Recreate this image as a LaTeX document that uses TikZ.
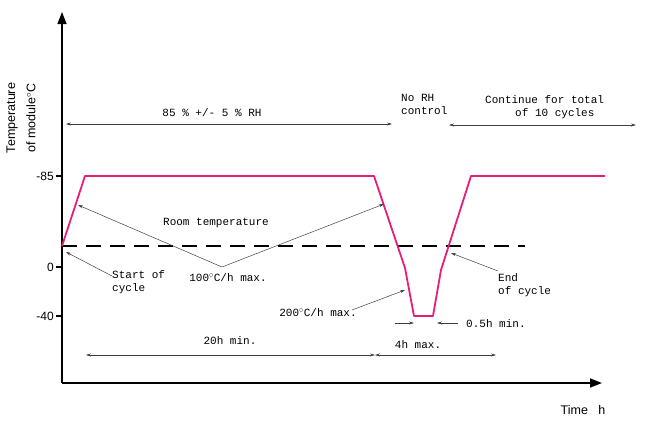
\documentclass[tikz,border=0pt]{standalone}
\usepackage{fontspec}
\usetikzlibrary{arrows.meta}
\setmainfont{Liberation Mono}
\newfontfamily\arialf{Liberation Sans}
\begin{document}
\begin{tikzpicture}[x=1pt,y=-1pt,
  lbl/.style={font=\fontsize{11}{13}\selectfont,inner sep=0pt},
  tk/.style={font=\arialf\fontsize{12}{13}\selectfont,inner sep=0pt,anchor=east},
  axl/.style={font=\arialf\fontsize{12.5}{14}\selectfont,inner sep=0pt},
  thin/.style={draw=black!75,line width=0.5pt},
  arr/.style={thin,-{Stealth[length=5pt,width=3pt]}},
  darr/.style={thin,{Stealth[length=5pt,width=3pt]}-{Stealth[length=5pt,width=3pt]}}]
\useasboundingbox (0,0) rectangle (667,426);
% axes
\coordinate (O) at (62,383);
\coordinate (Ytop) at (62,12);
\coordinate (Xend) at (602,383);
\draw[line width=1.6pt,-{Triangle[length=12pt,width=9pt]}] (O) -- (Ytop);
\draw[line width=1.6pt,-{Triangle[length=12pt,width=9pt]}] (O) -- (Xend);
% ticks
\foreach \y/\t in {176/-85,267/0,316/-40}{
  \draw[line width=1.4pt] (56,\y) -- (62,\y);
  \node[tk] at (54,\y) {\t};}
% axis labels
\node[axl,rotate=90] (yl1) at (12,118) {Temperature};
\node[axl,rotate=90] (yl2) at (31,118) {of module$^{\circ}$C};
\node[axl] (xl) at (583,410) {Time\ \ \ h};
% dashed room temp
\draw[line width=2pt,dash pattern=on 15pt off 9pt] (62,246) -- (525,246);
% pink curve
\draw[color={rgb,255:red,230;green,30;blue,120},line width=1.8pt,line join=round]
  (62,246) -- (85,176) -- (374,176) -- (405,268) -- (414,316) -- (433,316) -- (441,270) -- (471,176) -- (605,176);
% RH arrow
\coordinate (rh1) at (66,124); \coordinate (rh2) at (392,124);
\draw[darr] (rh1) -- (rh2);
\node[lbl] (rhl) at (212,113) {85 \% +/- 5 \% RH};
\node[lbl,anchor=west,align=left] (norh) at (401,104) {No RH\\control};
\coordinate (c1) at (449,125); \coordinate (c2) at (636,125);
\draw[darr] (c1) -- (c2);
\node[lbl,anchor=west] (ct1) at (485,100) {Continue for total};
\node[lbl,anchor=west] (ct2) at (515,114) {of 10 cycles};
% room temp
\node[lbl] (rt) at (216,223) {Room temperature};
\coordinate (v) at (222,267);
\coordinate (p1) at (78,205); \coordinate (p2) at (384,204);
\draw[arr] (v) -- (p1);
\draw[arr] (v) -- (p2);
\node[lbl] (r100) at (228,278) {100$^{\circ}$C/h max.};
% start / end
\node[lbl,anchor=west,align=left] (st) at (112,282) {Start of\\cycle};
\coordinate (sa) at (112,276); \coordinate (sb) at (66,252);
\draw[arr] (sa) -- (sb);
\node[lbl,anchor=west,align=left] (en) at (498,285) {End\\of cycle};
\coordinate (ea) at (498,271); \coordinate (eb) at (451,253);
\draw[arr] (ea) -- (eb);
% 200
\node[lbl] (r200) at (318,313) {200$^{\circ}$C/h max.};
\coordinate (wa) at (352,310); \coordinate (wb) at (405,290);
\draw[arr] (wa) -- (wb);
% 0.5h
\coordinate (ha) at (395,323); \coordinate (hb) at (414,323);
\coordinate (hc) at (458,323); \coordinate (hd) at (437,323);
\draw[arr] (ha) -- (hb);
\draw[arr] (hc) -- (hd);
\node[lbl,anchor=west] (h05) at (466,324) {0.5h min.};
% 20h / 4h
\coordinate (t1) at (86,355); \coordinate (t2) at (375,355); \coordinate (t3) at (496,355);
\draw[darr] (t1) -- (t2);
\draw[darr] (t2) -- (t3);
\node[lbl] (l20) at (230,341) {20h min.};
\node[lbl] (l4) at (418,345) {4h max.};
\end{tikzpicture}
\end{document}
